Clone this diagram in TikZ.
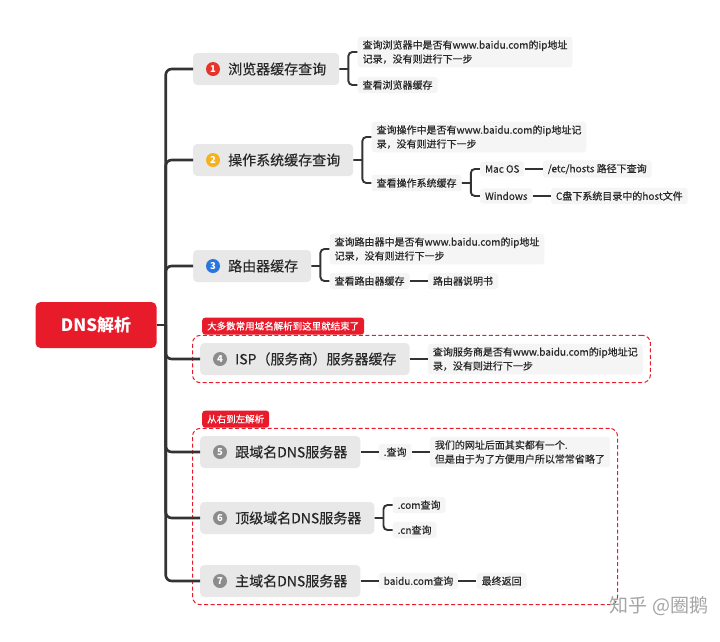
\documentclass[tikz,border=0pt]{standalone}
\usepackage{fontspec}
\setmainfont{Noto Sans CJK SC}
\newfontfamily\medfont{Noto Sans CJK SC}[FakeBold=0.4]
\usetikzlibrary{positioning,fit}
\definecolor{rootred}{RGB}{232,27,43}
\definecolor{topicgray}{RGB}{232,232,232}
\definecolor{leafgray}{RGB}{245,245,245}
\definecolor{linedark}{RGB}{51,51,51}
\definecolor{textdark}{RGB}{40,40,40}
\definecolor{dotred}{RGB}{232,52,40}
\definecolor{dotorange}{RGB}{246,178,30}
\definecolor{dotblue}{RGB}{40,118,222}
\definecolor{dotgray}{RGB}{140,140,140}
\definecolor{markgray}{RGB}{165,165,165}
\tikzset{
  branch/.style={draw=linedark,line width=2.6pt,rounded corners=6pt},
  twig/.style={draw=linedark,line width=1.9pt,rounded corners=4pt},
  rootbox/.style={fill=rootred,text=white,rounded corners=5pt,minimum width=121pt,
                  minimum height=46pt,font=\fontsize{17}{20}\selectfont\bfseries},
  topic/.style={anchor=west,fill=topicgray,text=textdark,rounded corners=4pt,
                minimum height=32pt,inner xsep=13pt,font=\medfont\fontsize{14}{16}\selectfont},
  leaf/.style={fill=leafgray,text=textdark,rounded corners=3pt,align=left,
               inner xsep=5pt,inner ysep=3.5pt,font=\medfont\fontsize{10}{14}\selectfont},
  numdot/.style={circle,fill=#1,text=white,inner sep=0pt,minimum size=14pt,
                 font=\fontsize{9.5}{9.5}\selectfont\bfseries},
  groupbox/.style={draw=rootred,dashed,dash pattern=on 4pt off 2.5pt,line width=1pt,
                   rounded corners=8pt,inner sep=7.5pt},
  tag/.style={anchor=south west,fill=rootred,text=white,rounded corners=3pt,
              minimum height=17pt,inner xsep=5pt,inner ysep=2pt,font=\medfont\fontsize{9.5}{10}\selectfont},
  watermark/.style={text=markgray,font=\fontsize{19}{19}\selectfont},
}
\begin{document}
\begin{tikzpicture}[x=1pt,y=-1pt]
  \path[fill=white,use as bounding box] (0,0) rectangle (720,641);

  \node[rootbox] (root) at (96,325) {DNS解析};

  \node[topic] (t1) at (193,69)  {\hspace{22pt}浏览器缓存查询};
  \node[topic] (t2) at (193,160) {\hspace{22pt}操作系统缓存查询};
  \node[topic] (t3) at (193,266) {\hspace{22pt}路由器缓存};
  \node[topic] (t4) at (200,359) {\hspace{22pt}ISP（服务商）服务器缓存};
  \node[topic] (t5) at (200,452) {\hspace{22pt}跟域名DNS服务器};
  \node[topic] (t6) at (200,518) {\hspace{22pt}顶级域名DNS服务器};
  \node[topic] (t7) at (200,581) {\hspace{22pt}主域名DNS服务器};

  \node[numdot=dotred]    (d1) at ([xshift=20pt]t1.west) {1};
  \node[numdot=dotorange] (d2) at ([xshift=20pt]t2.west) {2};
  \node[numdot=dotblue]   (d3) at ([xshift=20pt]t3.west) {3};
  \foreach \i in {4,...,7}
    \node[numdot=dotgray] (d\i) at ([xshift=20pt]t\i.west) {\i};

  \node[leaf,right=18pt of t1,yshift=17pt] (c1a)
    {查询浏览器中是否有www.baidu.com的ip地址\\记录，没有则进行下一步};
  \node[leaf,right=18pt of t1,yshift=-16pt] (c1b) {查看浏览器缓存};

  \node[leaf,right=18pt of t2,yshift=23pt] (c2a)
    {查询操作中是否有www.baidu.com的ip地址记\\录，没有则进行下一步};
  \node[leaf,right=18pt of t2,yshift=-23pt] (c2b) {查看操作系统缓存};
  \node[leaf,right=18pt of c2b,yshift=14pt] (c2c) {Mac OS};
  \node[leaf,right=18pt of c2b,yshift=-13pt] (c2d) {Windows};
  \node[leaf,right=18pt of c2c] (c2e) {/etc/hosts 路径下查询};
  \node[leaf,right=18pt of c2d] (c2f) {C盘下系统目录中的host文件};

  \node[leaf,right=18pt of t3,yshift=17pt] (c3a)
    {查询路由器中是否有www.baidu.com的ip地址\\记录，没有则进行下一步};
  \node[leaf,right=18pt of t3,yshift=-15pt] (c3b) {查看路由器缓存};
  \node[leaf,right=18pt of c3b] (c3c) {路由器说明书};

  \node[leaf,right=18pt of t4] (c4a)
    {查询服务商是否有www.baidu.com的ip地址记\\录，没有则进行下一步};

  \node[leaf,right=18pt of t5] (c5a) {.查询};
  \node[leaf,right=18pt of c5a] (c5b)
    {我们的网址后面其实都有一个.\\但是由于为了方便用户所以常常省略了};

  \node[leaf,right=18pt of t6,yshift=13pt] (c6a) {.com查询};
  \node[leaf,right=18pt of t6,yshift=-12pt] (c6b) {.cn查询};

  \node[leaf,right=18pt of t7] (c7a) {baidu.com查询};
  \node[leaf,right=18pt of c7a] (c7b) {最终返回};

  \node[groupbox,fit=(t4)(c4a)] (g1) {};
  \node[tag] (tag1) at ([xshift=10pt]g1.north west) {大多数常用域名解析到这里就结束了};
  \node[groupbox,fit=(t5)(c5b)(t6)(t7)] (g2) {};
  \node[tag] (tag2) at ([xshift=10pt]g2.north west) {从右到左解析};

  \coordinate (trunk) at ([xshift=9pt]root.east);
  \draw[branch] (root.east) -- (trunk);
  \foreach \t in {t1,t2,t3,t4,t5,t6,t7}
    \draw[branch] (trunk) |- (\t.west);

  \coordinate (j1) at ([xshift=9pt]t1.east);
  \coordinate (j2) at ([xshift=9pt]t2.east);
  \coordinate (j2b) at ([xshift=9pt]c2b.east);
  \coordinate (j3) at ([xshift=9pt]t3.east);
  \coordinate (j6) at ([xshift=9pt]t6.east);
  \draw[twig] (t1.east) -- (j1) (j1) |- (c1a.west) (j1) |- (c1b.west);
  \draw[twig] (t2.east) -- (j2) (j2) |- (c2a.west) (j2) |- (c2b.west);
  \draw[twig] (c2b.east) -- (j2b) (j2b) |- (c2c.west) (j2b) |- (c2d.west);
  \draw[twig] (c2c) -- (c2e);
  \draw[twig] (c2d) -- (c2f);
  \draw[twig] (t3.east) -- (j3) (j3) |- (c3a.west) (j3) |- (c3b.west);
  \draw[twig] (c3b) -- (c3c);
  \draw[twig] (t4) -- (c4a);
  \draw[twig] (t5) -- (c5a);
  \draw[twig] (c5a) -- (c5b);
  \draw[twig] (t6.east) -- (j6) (j6) |- (c6a.west) (j6) |- (c6b.west);
  \draw[twig] (t7) -- (c7a);
  \draw[twig] (c7a) -- (c7b);

  \node[watermark] (wm) at (659,606) {知乎 @圈鹅};
\end{tikzpicture}
\end{document}
